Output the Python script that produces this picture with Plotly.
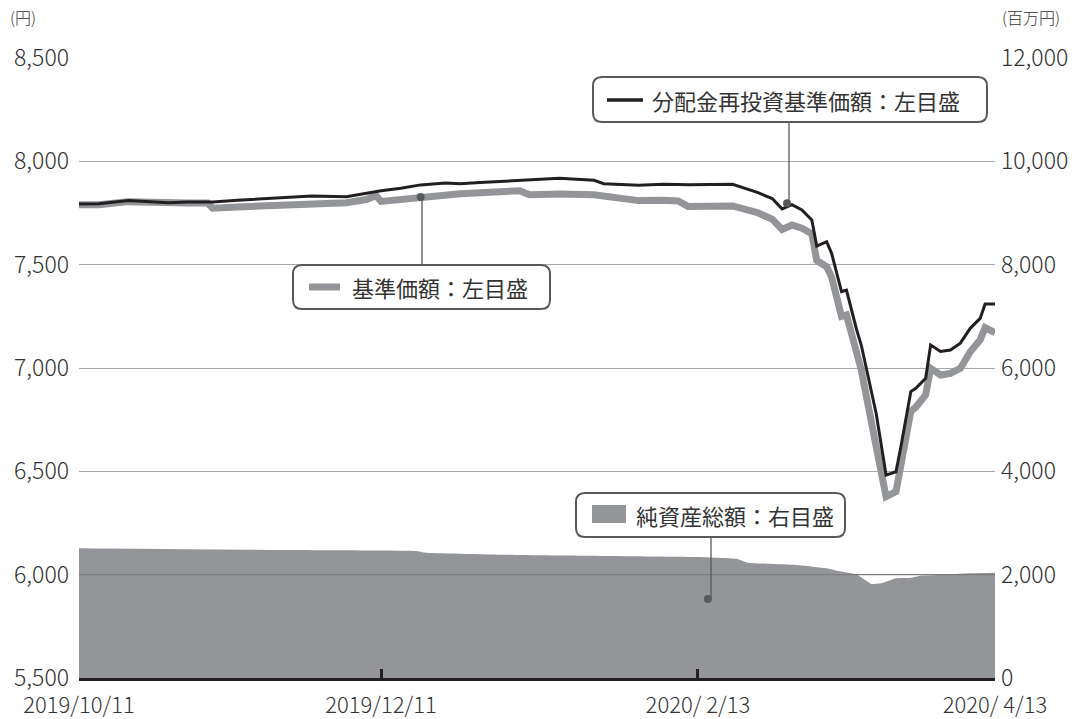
import plotly.graph_objects as go

# ---------------- data ----------------
line_dates = [
    "2019-10-11", "2019-10-15", "2019-10-21", "2019-10-25", "2019-10-29", "2019-11-02",
    "2019-11-06", "2019-11-07", "2019-11-12", "2019-11-17", "2019-11-21", "2019-11-27",
    "2019-12-04", "2019-12-08", "2019-12-10", "2019-12-11", "2019-12-15", "2019-12-19",
    "2019-12-24", "2019-12-27", "2019-12-31", "2020-01-06", "2020-01-08", "2020-01-10",
    "2020-01-16", "2020-01-23", "2020-01-25", "2020-02-01", "2020-02-06", "2020-02-09",
    "2020-02-11", "2020-02-20", "2020-02-25", "2020-02-28", "2020-03-01", "2020-03-03",
    "2020-03-05", "2020-03-07", "2020-03-08", "2020-03-10", "2020-03-11", "2020-03-13",
    "2020-03-14", "2020-03-16", "2020-03-17", "2020-03-20", "2020-03-22", "2020-03-24",
    "2020-03-25", "2020-03-27", "2020-03-28", "2020-03-30", "2020-03-31", "2020-04-02",
    "2020-04-04", "2020-04-06", "2020-04-08", "2020-04-10", "2020-04-11", "2020-04-13",
]
reinvested_nav = [
    7794, 7795, 7810, 7806, 7800, 7803,
    7802, 7803, 7812, 7818, 7822, 7832,
    7829, 7845, 7852, 7858, 7870, 7886,
    7895, 7892, 7897, 7905, 7910, 7910,
    7918, 7908, 7892, 7884, 7889, 7888,
    7887, 7889, 7850, 7820, 7770, 7790,
    7765, 7716, 7590, 7611, 7555, 7370,
    7377, 7190, 7110, 6780, 6482, 6498,
    6620, 6886, 6902, 6950, 7111, 7080,
    7087, 7120, 7192, 7240, 7310, 7310,
]
nav = [
    7790, 7790, 7805, 7800, 7796, 7798,
    7798, 7773, 7779, 7782, 7786, 7796,
    7800, 7815, 7834, 7806, 7815, 7829,
    7843, 7843, 7848, 7856, 7858, 7838,
    7842, 7838, 7830, 7810, 7812, 7808,
    7782, 7784, 7752, 7720, 7670, 7692,
    7676, 7650, 7520, 7490, 7440, 7250,
    7257, 7080, 6990, 6620, 6378, 6402,
    6530, 6790, 6810, 6870, 6998, 6966,
    6974, 6998, 7079, 7136, 7195, 7171,
]

asset_dates = [
    "2019-10-11", "2019-11-22", "2019-12-18", "2019-12-20", "2020-01-08", "2020-02-13",
    "2020-02-21", "2020-02-23", "2020-03-04", "2020-03-10", "2020-03-12", "2020-03-16",
    "2020-03-19", "2020-03-21", "2020-03-24", "2020-03-27", "2020-03-29", "2020-04-02",
    "2020-04-04", "2020-04-08", "2020-04-13",
]
net_assets = [
    2510, 2477, 2458, 2425, 2380, 2340,
    2303, 2232, 2187, 2122, 2077, 2006,
    1820, 1833, 1930, 1942, 1981, 1994,
    2006, 2026, 2035,
]

x_tick_vals = ["2019-10-11", "2019-12-11", "2020-02-13", "2020-04-13"]
x_tick_text = ["2019/10/11", "2019/12/11", "2020/ 2/13", "2020/ 4/13"]

left_ticks = [5500, 6000, 6500, 7000, 7500, 8000, 8500]
right_ticks = [0, 2000, 4000, 6000, 8000, 10000, 12000]

# ---------------- style ----------------
FONT = "Noto Sans CJK JP"
TXT = "#333333"
GRAY = "#939598"
BLACK = "#231f20"
DARK = "#58595b"
GRID = "#a7a9ac"
TICKFONT = dict(family=FONT, size=23, color=TXT, weight=300)
XTICKFONT = dict(family=FONT, size=22, color=TXT, weight=300)

W, H = 1085, 719
L, R, T, B = 79, 90, 58, 41
PW, PH = W - L - R, H - T - B


def px(xp):
    return (xp - L) / PW


def py(yp):
    return (H - B - yp) / PH


fig = go.Figure()

fig.add_trace(go.Scatter(
    x=asset_dates, y=net_assets, yaxis="y", mode="lines",
    line=dict(color=GRAY, width=0, shape="spline", smoothing=0.3),
    fill="tozeroy", fillcolor=GRAY, name="純資産総額", hoverinfo="x+y",
))
fig.add_trace(go.Scatter(
    x=line_dates, y=nav, yaxis="y2", mode="lines",
    line=dict(color=GRAY, width=7), name="基準価額",
))
fig.add_trace(go.Scatter(
    x=line_dates, y=reinvested_nav, yaxis="y2", mode="lines",
    line=dict(color=BLACK, width=3), name="分配金再投資基準価額",
))

shapes = []
annotations = []

# gridline visible over the area
shapes.append(dict(type="line", xref="paper", x0=0, x1=1, yref="y", y0=2000, y1=2000,
                   line=dict(color="#7d7e81", width=1.2), layer="above"))


def rounded_box(x0, y0, x1, y1, r=9):
    X0, X1 = px(x0), px(x1)
    Y0, Y1 = py(y1), py(y0)  # bottom, top in paper
    rx, ry = r / PW, r / PH
    path = (f"M {X0+rx},{Y1} L {X1-rx},{Y1} Q {X1},{Y1} {X1},{Y1-ry} "
            f"L {X1},{Y0+ry} Q {X1},{Y0} {X1-rx},{Y0} L {X0+rx},{Y0} "
            f"Q {X0},{Y0} {X0},{Y0+ry} L {X0},{Y1-ry} Q {X0},{Y1} {X0+rx},{Y1} Z")
    return dict(type="path", xref="paper", yref="paper", path=path,
                line=dict(color=DARK, width=2), fillcolor="white", layer="above")


def dot(xd, yd, yref):
    return dict(type="circle", xref="x", yref=yref, xsizemode="pixel", ysizemode="pixel",
                xanchor=xd, yanchor=yd, x0=-4, x1=4, y0=-4, y1=4,
                fillcolor=DARK, line=dict(width=0), layer="above")


def vline(xpix, y0pix, y1pix):
    return dict(type="line", xref="paper", yref="paper", x0=px(xpix), x1=px(xpix),
                y0=py(y0pix), y1=py(y1pix), line=dict(color=DARK, width=1.3), layer="above")


LABELFONT = dict(family=FONT, size=22, color=TXT)

# callout 1: 分配金再投資基準価額
shapes.append(vline(789, 122, 203))
shapes.append(dot("2020-03-02", 7797, "y2"))
shapes.append(rounded_box(593, 77, 987, 122))
shapes.append(dict(type="line", xref="paper", yref="paper", x0=px(607), x1=px(643),
                   y0=py(100), y1=py(100), line=dict(color=BLACK, width=3.5), layer="above"))
annotations.append(dict(xref="paper", yref="paper", x=px(650), y=py(100), xanchor="left",
                        yanchor="middle", showarrow=False, text="分配金再投資基準価額：左目盛",
                        font=LABELFONT))

# callout 2: 基準価額
shapes.append(vline(422, 265, 197))
shapes.append(dot("2019-12-19", 7827, "y2"))
shapes.append(rounded_box(293, 265, 550, 309))
shapes.append(dict(type="line", xref="paper", yref="paper", x0=px(309), x1=px(340),
                   y0=py(287), y1=py(287), line=dict(color=GRAY, width=7), layer="above"))
annotations.append(dict(xref="paper", yref="paper", x=px(350), y=py(287), xanchor="left",
                        yanchor="middle", showarrow=False, text="基準価額：左目盛",
                        font=LABELFONT))

# callout 3: 純資産総額
shapes.append(vline(711, 537, 599))
shapes.append(dot("2020-02-15", 1530, "y"))
shapes.append(rounded_box(576, 493, 845, 537))
shapes.append(dict(type="rect", xref="paper", yref="paper", x0=px(592), x1=px(626),
                   y0=py(523), y1=py(505), fillcolor=GRAY, line=dict(width=0), layer="above"))
annotations.append(dict(xref="paper", yref="paper", x=px(634), y=py(515), xanchor="left",
                        yanchor="middle", showarrow=False, text="純資産総額：右目盛",
                        font=LABELFONT))

# unit labels
annotations.append(dict(xref="paper", yref="paper", x=px(8), y=py(17), xanchor="left",
                        yanchor="middle", showarrow=False, text="(円)",
                        font=dict(family=FONT, size=16, color=TXT, weight=300)))
annotations.append(dict(xref="paper", yref="paper", x=px(1000), y=py(17), xanchor="left",
                        yanchor="middle", showarrow=False, text="(百万円)",
                        font=dict(family=FONT, size=16, color=TXT, weight=300)))

fig.update_layout(
    width=W, height=H,
    margin=dict(l=L, r=R, t=T, b=B, pad=0, autoexpand=False),
    paper_bgcolor="white", plot_bgcolor="white",
    showlegend=False,
    font=dict(family=FONT, color=TXT, size=22),
    xaxis=dict(
        type="date", range=["2019-10-11", "2020-04-13"],
        tickvals=x_tick_vals, ticktext=x_tick_text,
        showgrid=False, zeroline=False, automargin=False,
        showline=True, linecolor=BLACK, linewidth=3,
        ticks="inside", ticklen=9, tickwidth=3, tickcolor=BLACK,
        tickfont=XTICKFONT,
        ticklabelstandoff=6,
    ),
    yaxis=dict(
        side="right", range=[0, 12000], tickvals=right_ticks, tickformat=",",
        showgrid=True, gridcolor=GRID, gridwidth=1.2, zeroline=False, automargin=False,
        showline=False, ticks="",
        tickfont=TICKFONT,
        ticklabelstandoff=5,
    ),
    yaxis2=dict(
        side="left", overlaying="y", range=[5500, 8500], tickvals=left_ticks, tickformat=",",
        showgrid=False, zeroline=False, showline=False, ticks="", automargin=False,
        tickfont=TICKFONT,
        ticklabelstandoff=9,
    ),
    shapes=shapes,
    annotations=annotations,
)

fig.write_html("out.html", config={"displayModeBar": False},
               post_script="document.body.style.margin='0';")
